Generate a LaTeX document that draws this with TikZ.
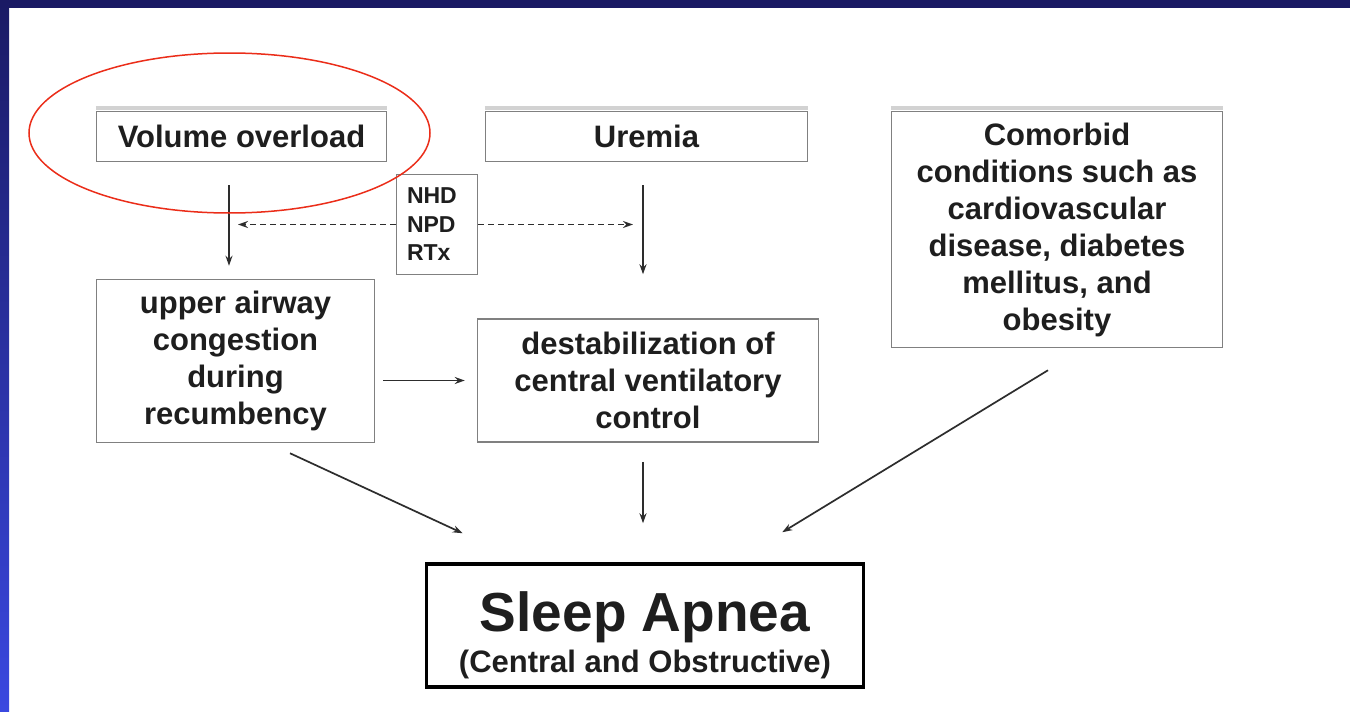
\documentclass[tikz,border=0pt]{standalone}
\usepackage{fontspec}
\setmainfont{Liberation Sans}
\usetikzlibrary{positioning,arrows.meta}

\definecolor{boxgray}{RGB}{128,128,128}
\definecolor{inkgray}{RGB}{30,30,30}
\definecolor{linegray}{RGB}{45,45,45}
\definecolor{slidenavy}{RGB}{26,26,100}
\definecolor{slideblue}{RGB}{58,72,224}
\definecolor{ovalred}{RGB}{235,45,25}

\tikzstyle{block} = [rectangle, draw=boxgray, line width=1.5pt, align=center, inner sep=0pt, text=inkgray, font=\fontsize{31}{37}\selectfont\bfseries]
\tikzstyle{tag} = [block, align=left, text width=60pt, inner xsep=10.5pt, minimum height=100pt, font=\fontsize{23}{28.5}\selectfont\bfseries]
\tikzstyle{apneabox} = [rectangle, draw=black, line width=3.5pt, minimum width=437pt, minimum height=123pt]
\tikzstyle{arr} = [->, draw=linegray, line width=1.7pt]
\tikzstyle{dotarr} = [arr, dash pattern=on 6pt off 4pt]

\begin{document}
\begin{tikzpicture}[x=1pt, y=1pt, >={Stealth[length=10pt,width=7pt]}]
% Slide frame
\useasboundingbox (0,0) rectangle (1350,-712);
\fill[white] (0,0) rectangle (1350,-712);
\fill[slidenavy] (0,0) rectangle (1350,-8);
\shade[top color=slidenavy, bottom color=slideblue] (0,0) rectangle (9,-712);
% Boxes
\node [block, minimum width=290pt, minimum height=50pt] (vol) at (241.5,-136.5) {Volume overload};
\node [block, minimum width=322pt, minimum height=50pt] (ure) [right of=vol, node distance=405pt] {Uremia};
\node [block, minimum width=331pt, minimum height=236pt] (como) [right of=ure, node distance=410.5pt, yshift=-93pt] {Comorbid\\conditions such as\\cardiovascular\\disease, diabetes\\mellitus, and\\obesity};
\node [tag] (nhd) [right of=vol, node distance=195.5pt, yshift=-88pt] {NHD\\NPD\\RTx};
\node [block, minimum width=278pt, minimum height=163pt] (air) [below of=vol, node distance=224.5pt, xshift=-6pt] {upper airway\\congestion\\during\\recumbency};
\node [block, minimum width=341pt, minimum height=123pt] (dest) [below of=ure, node distance=244pt, xshift=1.5pt] {destabilization of\\central ventilatory\\control};
\node [apneabox, label={[yshift=-10pt, align=center, text=inkgray, font=\fontsize{31}{41}\selectfont\bfseries]center:{\fontsize{55}{60}\selectfont Sleep Apnea}\\(Central and Obstructive)}] (apnea) [below of=dest, node distance=245pt, xshift=-3pt] {};
\foreach \n in {vol,ure,como}
  \draw[gray!35, line width=4pt] ([yshift=3pt]\n.north west) -- ([yshift=3pt]\n.north east);
% Paths
\draw[arr] ([xshift=-12.5pt,yshift=-23pt]vol.south) -- ([xshift=-6.5pt,yshift=13pt]air.north);
\draw[arr] ([xshift=-3.5pt,yshift=-23pt]ure.south) -- ([xshift=-5pt,yshift=44pt]dest.north);
\draw[dotarr, shorten >=-3.5pt] (nhd.west) -- (nhd.west -| vol.south);
\draw[dotarr, shorten >=13.5pt] (nhd.east) -- (nhd.east -| ure.south);
\draw[arr, shorten <=8pt, shorten >=12pt] (air.east |- dest.west) -- (dest.west);
\draw[arr] ([xshift=54.5pt,yshift=-10pt]air.south) -- ([xshift=38pt,yshift=29pt]apnea.north west);
\draw[arr] ([xshift=-5pt,yshift=-19pt]dest.south) -- ([xshift=-2pt,yshift=39pt]apnea.north);
\draw[arr] ([xshift=-9pt,yshift=-22pt]como.south) -- ([xshift=-83pt,yshift=30pt]apnea.north east);
% Highlight
\draw[ovalred, line width=1.5pt] ([xshift=-12pt,yshift=3.5pt]vol.center) ellipse [x radius=200.5pt, y radius=80pt];
\end{tikzpicture}
\end{document}
